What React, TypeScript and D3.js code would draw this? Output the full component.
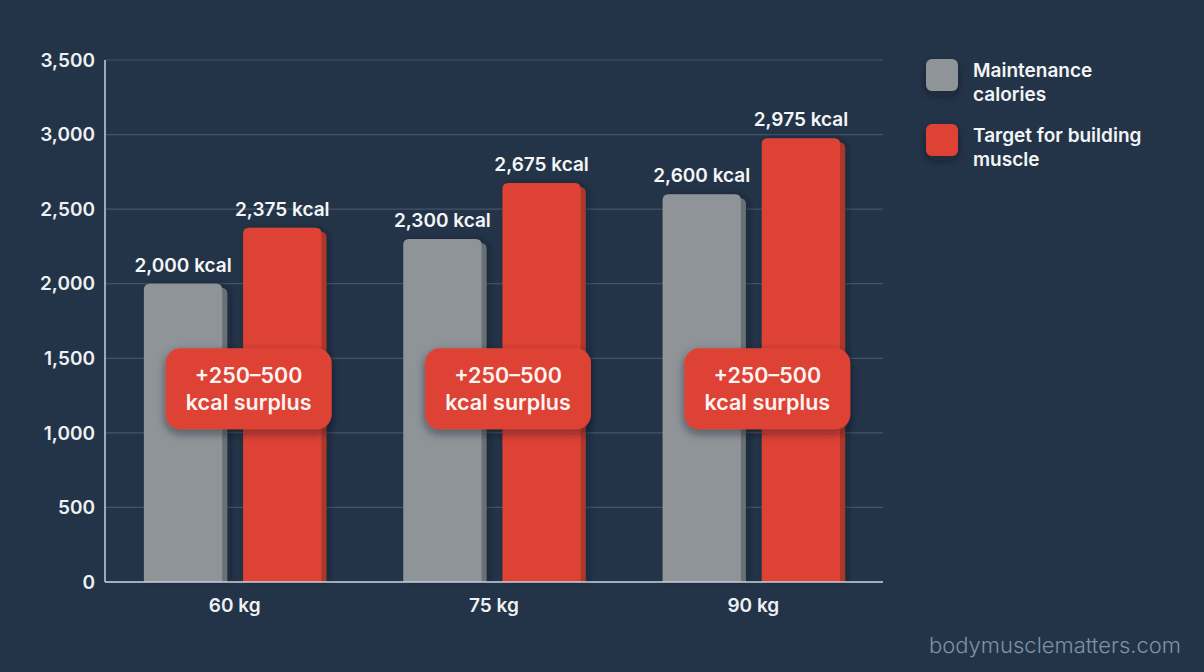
import * as d3 from "d3";
import React from "react";

// chart data
const categories = ["60 kg", "75 kg", "90 kg"];
const maintenance = [2000, 2300, 2600];
const target = [2375, 2675, 2975];
const yTicks = [0, 500, 1000, 1500, 2000, 2500, 3000, 3500];
const seriesKeys = ["maintenance", "target"];
const seriesNames = [["Maintenance", "calories"], ["Target for building", "muscle"]];
const surplusLines = ["+250–500", "kcal surplus"];

const W = 1204, H = 672;
const margin = { top: 60, right: 321, bottom: 90, left: 105 };
const FONT = "Inter, 'Noto Sans', sans-serif";
const colors = { maintenance: "#8f9499", target: "#de4335" };
const sideColors = { maintenance: "#6a6f75", target: "#ab372c" };

const fmt = d3.format(",");

export default function App() {
  const x0 = d3.scaleBand()
    .domain(categories)
    .range([margin.left, W - margin.right])
    .paddingInner(0.3)
    .paddingOuter(0.15);
  const x1 = d3.scaleBand()
    .domain(seriesKeys)
    .range([0, x0.bandwidth() - 4])
    .paddingInner(0.21);
  const y = d3.scaleLinear().domain([0, 3500]).range([H - margin.bottom, margin.top]);

  const bars = categories.flatMap((c, i) => [
    { cat: c, key: "maintenance", value: maintenance[i] },
    { cat: c, key: "target", value: target[i] },
  ]);

  const bw = x1.bandwidth();
  const r = 6;
  const barPath = (x: number, top: number, bottom: number, w: number) =>
    `M${x},${bottom}V${top + r}Q${x},${top} ${x + r},${top}H${x + w - r}Q${x + w},${top} ${x + w},${top + r}V${bottom}Z`;

  return (
    <svg width={W} height={H} style={{ position: "absolute", left: 0, top: 0, display: "block" }} fontFamily={FONT}>
      <defs>
        <filter id="shadow" x="-20%" y="-20%" width="140%" height="160%">
          <feDropShadow dx="0" dy="4" stdDeviation="5" floodColor="#0b1320" floodOpacity="0.5" />
        </filter>
        <filter id="barShadow" x="-20%" y="-5%" width="140%" height="110%">
          <feDropShadow dx="3" dy="0" stdDeviation="3" floodColor="#0e1726" floodOpacity="0.4" />
        </filter>
      </defs>
      <rect width={W} height={H} fill="#243448" />

      {/* gridlines */}
      {yTicks.map(t => (
        <line key={t} x1={margin.left} x2={W - margin.right} y1={y(t)} y2={y(t)} stroke="#435469" strokeWidth={1.2} />
      ))}
      {yTicks.map(t => (
        <text key={"l" + t} x={95} y={y(t)} dy="0.35em" textAnchor="end" fill="#eef1f4" fontSize={19} fontWeight={600}>
          {fmt(t)}
        </text>
      ))}

      {/* bars */}
      {bars.map(b => {
        const bx = (x0(b.cat) as number) + (x1(b.key) as number);
        const top = y(b.value);
        const bottom = y(0);
        return (
          <g key={b.cat + b.key} filter="url(#barShadow)">
            <path d={barPath(bx + 5, top + 4, bottom, bw)} fill={sideColors[b.key]} />
            <path d={barPath(bx, top, bottom, bw)} fill={colors[b.key]} />
          </g>
        );
      })}

      {/* value labels */}
      {bars.map(b => {
        const bx = (x0(b.cat) as number) + (x1(b.key) as number);
        return (
          <text key={"v" + b.cat + b.key} x={bx + bw / 2} y={y(b.value) - 12} textAnchor="middle"
            fill="#f4f6f8" fontSize={19} fontWeight={600}>
            {fmt(b.value)} kcal
          </text>
        );
      })}

      {/* surplus badges */}
      {categories.map(c => {
        const cx = (x0(c) as number) + x0.bandwidth() / 2 + 14;
        const by = y(1500) - 10;
        return (
          <g key={"b" + c}>
            <rect x={cx - 83} y={by} width={166} height={81} rx={15} fill="#de4335" filter="url(#shadow)" />
            {surplusLines.map((s, i) => (
              <text key={i} x={cx} y={by + 35 + i * 27} textAnchor="middle" fill="#fbf4f2" fontSize={21.5} fontWeight={600}>
                {s}
              </text>
            ))}
          </g>
        );
      })}

      {/* axes */}
      <line x1={margin.left} x2={margin.left} y1={margin.top} y2={y(0)} stroke="#c9d1da" strokeWidth={1.5} />
      <line x1={margin.left} x2={W - margin.right} y1={y(0)} y2={y(0)} stroke="#c9d1da" strokeWidth={1.5} />
      {categories.map(c => (
        <text key={"x" + c} x={(x0(c) as number) + x0.bandwidth() / 2} y={612} textAnchor="middle"
          fill="#eef1f4" fontSize={19} fontWeight={600}>
          {c}
        </text>
      ))}

      {/* legend */}
      {seriesKeys.map((k, i) => (
        <g key={"lg" + k} transform={`translate(926,${59 + i * 65})`}>
          <rect width={32} height={32} rx={6} fill={colors[k]} filter="url(#shadow)" />
          {seriesNames[i].map((s, j) => (
            <text key={j} x={47} y={18 + j * 24} fill="#f2f4f6" fontSize={19} fontWeight={600}>{s}</text>
          ))}
        </g>
      ))}

      <text x={1181} y={653} textAnchor="end" fill="#7f91a5" fontSize={22} fontWeight={300}>
        bodymusclematters.com
      </text>
    </svg>
  );
}
